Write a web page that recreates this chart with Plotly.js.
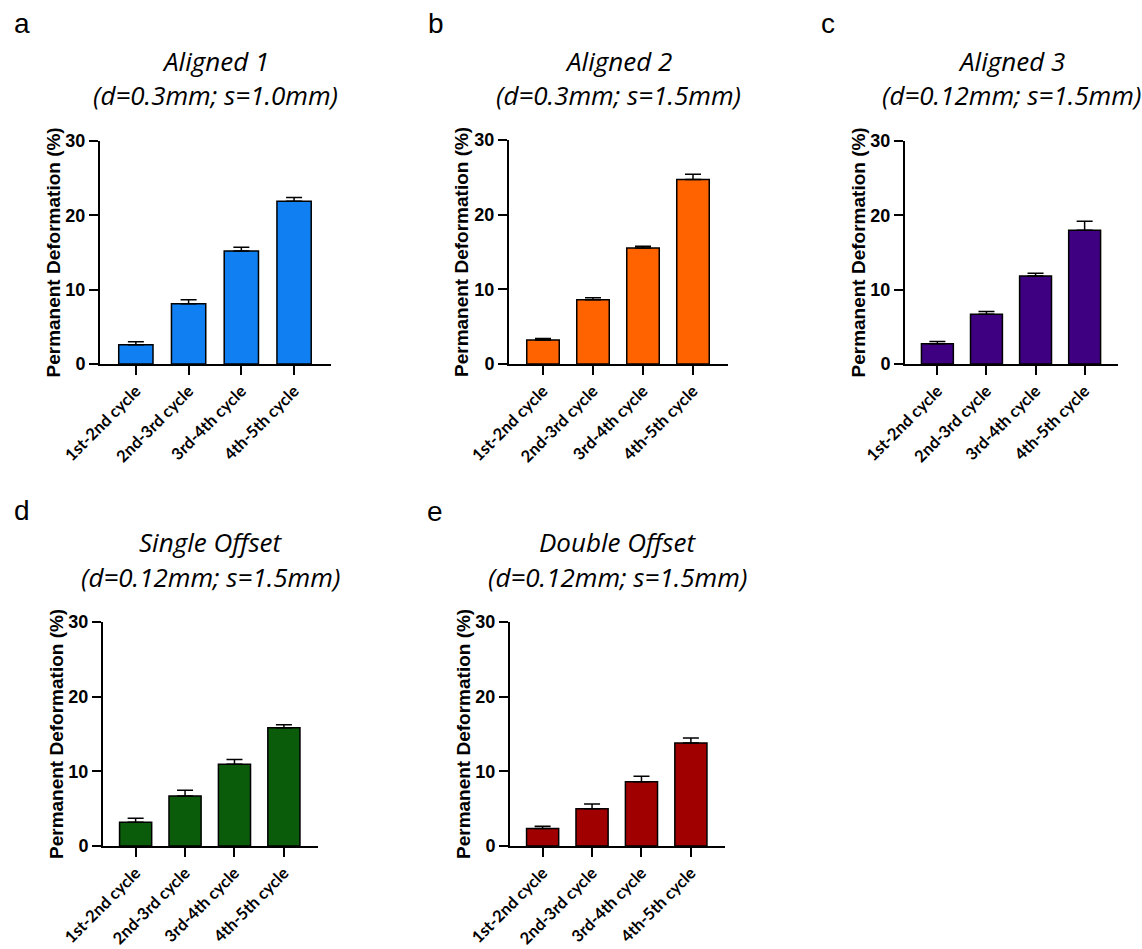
<!DOCTYPE html>
<html>
<head>
<meta charset="utf-8">
<script src="https://cdn.plot.ly/plotly-3.0.1.min.js"></script>
<style>html,body{margin:0;padding:0;background:#fff;}#chart{width:1142px;height:949px;}</style>
</head>
<body>
<div id="chart"></div>
<script>
// ---- data ----
const categories = ['1st-2nd cycle', '2nd-3rd cycle', '3rd-4th cycle', '4th-5th cycle'];
const yTicks = [0, 10, 20, 30];
const yAxisTitle = 'Permanent Deformation (%)';

const panelLetters = ['a', 'b', 'c', 'd', 'e'];
const titleLine1 = ['Aligned 1', 'Aligned 2', 'Aligned 3', 'Single Offset', 'Double Offset'];
const titleLine2 = ['(d=0.3mm; s=1.0mm)', '(d=0.3mm; s=1.5mm)', '(d=0.12mm; s=1.5mm)', '(d=0.12mm; s=1.5mm)', '(d=0.12mm; s=1.5mm)'];

const meanAligned1 = [2.6, 8.1, 15.2, 21.9];
const sdAligned1 = [0.4, 0.55, 0.5, 0.5];
const meanAligned2 = [3.2, 8.6, 15.55, 24.7];
const sdAligned2 = [0.22, 0.27, 0.23, 0.7];
const meanAligned3 = [2.72, 6.7, 11.85, 18.0];
const sdAligned3 = [0.3, 0.36, 0.35, 1.2];
const meanSingleOffset = [3.17, 6.7, 10.95, 15.83];
const sdSingleOffset = [0.53, 0.77, 0.62, 0.4];
const meanDoubleOffset = [2.33, 5.0, 8.62, 13.8];
const sdDoubleOffset = [0.31, 0.63, 0.73, 0.68];

const means = [meanAligned1, meanAligned2, meanAligned3, meanSingleOffset, meanDoubleOffset];
const sds = [sdAligned1, sdAligned2, sdAligned3, sdSingleOffset, sdDoubleOffset];

// ---- styling / layout ----
const W = 1142, H = 949;
const colors = ['#0F7FF2', '#FF6300', '#3E0080', '#0A5C0A', '#A10000'];
// plot boxes in pixels: [left, right, top, bottom]
const boxes = [
  [100, 331, 141, 364],
  [509, 728, 140, 364],
  [905, 1118, 141, 364],
  [103, 318, 622, 846],
  [510, 725, 622, 846]
];
const xRanges = [[-0.68, 3.70], [-0.68, 3.70], [-0.66, 3.68], [-0.66, 3.69], [-0.66, 3.69]];
const letterPos = [[12, 23], [426, 23], [819, 23], [12, 510], [425, 511]];
const title1Y = [61, 61, 61, 542, 542];
const title2Y = [95, 95, 95, 577, 577];

const px = x => x / W;
const py = y => 1 - y / H;

const yTickFont = {family: 'Liberation Sans, Arial, sans-serif', size: 18, weight: 'bold', color: '#000'};
const xTickFont = {family: 'Lato, Carlito, sans-serif', size: 16.5, weight: 'bold', color: '#000'};
const traces = [];
const layout = {
  width: W, height: H,
  margin: {l: 0, r: 0, t: 0, b: 0},
  paper_bgcolor: '#fff', plot_bgcolor: '#fff',
  showlegend: false,
  bargap: 0.35,
  annotations: []
};

boxes.forEach((b, i) => {
  const n = i === 0 ? '' : String(i + 1);
  traces.push({
    type: 'bar',
    x: categories,
    y: means[i],
    xaxis: 'x' + n,
    yaxis: 'y' + n,
    marker: {color: colors[i], line: {color: '#000', width: 1.5}},
    error_y: {
      type: 'data', symmetric: false,
      array: sds[i], arrayminus: sds[i].map(() => 0),
      color: '#000', thickness: 1.5, width: 8
    },
    hoverinfo: 'skip'
  });
  layout['xaxis' + n] = {
    domain: [px(b[0]), px(b[1])],
    anchor: 'y' + n,
    type: 'category',
    range: xRanges[i],
    showline: true, linecolor: '#000', linewidth: 2,
    ticks: 'outside', ticklen: 9, tickwidth: 2, tickcolor: '#000',
    tickangle: -45,
    tickfont: xTickFont,
    showgrid: false, zeroline: false, fixedrange: true
  };
  layout['yaxis' + n] = {
    domain: [py(b[3]), py(b[2])],
    anchor: 'x' + n,
    range: [0, 30],
    tickvals: yTicks,
    showline: true, linecolor: '#000', linewidth: 2,
    ticks: 'outside', ticklen: 9, tickwidth: 2, tickcolor: '#000',
    tickfont: yTickFont,
    showgrid: false, zeroline: false, fixedrange: true
  };
  const cx = (b[0] + b[1]) / 2;
  layout.annotations.push({
    xref: 'paper', yref: 'paper', x: px(b[0] - 47), y: py((b[2] + b[3]) / 2),
    text: yAxisTitle, textangle: -90, showarrow: false,
    xanchor: 'center', yanchor: 'middle',
    font: {family: 'Liberation Sans, Arial, sans-serif', size: 19, weight: 'bold', color: '#000'}
  });
  layout.annotations.push({
    xref: 'paper', yref: 'paper', x: px(cx), y: py(title1Y[i]),
    text: titleLine1[i], showarrow: false, xanchor: 'center', yanchor: 'middle',
    font: {family: 'Open Sans, sans-serif', size: 26, style: 'italic', color: '#000'}
  });
  layout.annotations.push({
    xref: 'paper', yref: 'paper', x: px(cx), y: py(title2Y[i]),
    text: titleLine2[i], showarrow: false, xanchor: 'center', yanchor: 'middle',
    font: {family: 'Open Sans, sans-serif', size: 26, style: 'italic', color: '#000'}
  });
  layout.annotations.push({
    xref: 'paper', yref: 'paper', x: px(letterPos[i][0]), y: py(letterPos[i][1]),
    text: panelLetters[i], showarrow: false, xanchor: 'left', yanchor: 'middle',
    font: {family: 'Liberation Sans, Arial, sans-serif', size: 28, color: '#000'}
  });
});

Plotly.newPlot('chart', traces, layout, {staticPlot: true, displayModeBar: false});
</script>
</body>
</html>
